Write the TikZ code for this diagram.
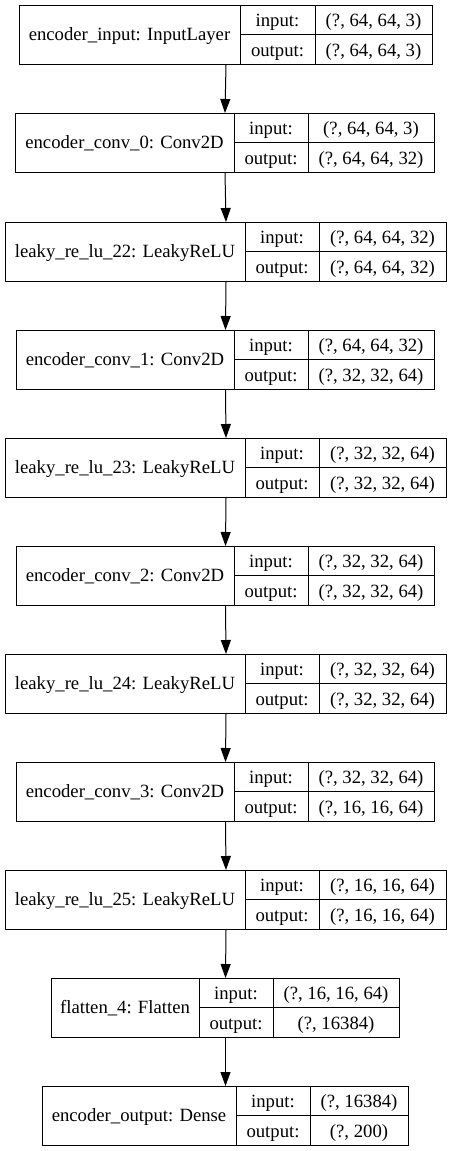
\documentclass[tikz,border=0pt]{standalone}
\usepackage{fontspec}
\setmainfont{Liberation Serif}
\usetikzlibrary{arrows.meta}
\tikzset{
  boxframe/.style={draw=black, line width=1pt, inner sep=0pt, anchor=north west},
  celltext/.style={inner sep=0pt, anchor=base, font=\fontsize{18.7}{20}\selectfont},
  flow/.style={draw=black, line width=1pt, -{Triangle[length=14pt,width=10pt]}}
}
\newcommand\layerbox[9]{%
  \node[boxframe, minimum width={(#6-#3)*1pt}, minimum height=59pt] (#1) at (#3,#2) {};
  \draw[line width=1pt] (#4,#2) -- (#4,#2+59);
  \draw[line width=1pt] (#5,#2) -- (#5,#2+59);
  \draw[line width=1pt] (#4,#2+29.5) -- (#6,#2+29.5);
  \node[celltext] (#1-l) at ({(#3+#4)/2},#2+35.5) {#7};
  \node[celltext] (#1-i) at ({(#4+#5)/2},#2+21.7) {input:};
  \node[celltext] (#1-o) at ({(#4+#5)/2},#2+51.2) {output:};
  \node[celltext] (#1-iv) at ({(#5+#6)/2},#2+21.7) {#8};
  \node[celltext] (#1-ov) at ({(#5+#6)/2},#2+51.2) {#9};
}
\begin{document}
\begin{tikzpicture}[x=1pt,y=-1pt]
\useasboundingbox[fill=white] (0,0) rectangle (450,1151);
\layerbox{b1}{5}{19}{240}{315}{432}{encoder\_input: InputLayer}{(?, 64, 64, 3)}{(?, 64, 64, 3)}
\layerbox{b2}{113}{15}{234}{308}{434}{encoder\_conv\_0: Conv2D}{(?, 64, 64, 3)}{(?, 64, 64, 32)}
\layerbox{b3}{222}{5}{245}{319}{446}{leaky\_re\_lu\_22: LeakyReLU}{(?, 64, 64, 32)}{(?, 64, 64, 32)}
\layerbox{b4}{330}{16}{234}{308}{434}{encoder\_conv\_1: Conv2D}{(?, 64, 64, 32)}{(?, 32, 32, 64)}
\layerbox{b5}{438}{5}{245}{319}{446}{leaky\_re\_lu\_23: LeakyReLU}{(?, 32, 32, 64)}{(?, 32, 32, 64)}
\layerbox{b6}{546}{16}{234}{308}{434}{encoder\_conv\_2: Conv2D}{(?, 32, 32, 64)}{(?, 32, 32, 64)}
\layerbox{b7}{654}{5}{245}{319}{446}{leaky\_re\_lu\_24: LeakyReLU}{(?, 32, 32, 64)}{(?, 32, 32, 64)}
\layerbox{b8}{762}{16}{234}{308}{434}{encoder\_conv\_3: Conv2D}{(?, 32, 32, 64)}{(?, 16, 16, 64)}
\layerbox{b9}{870}{5}{245}{319}{446}{leaky\_re\_lu\_25: LeakyReLU}{(?, 16, 16, 64)}{(?, 16, 16, 64)}
\layerbox{b10}{978}{51}{199}{273}{399}{flatten\_4: Flatten}{(?, 16, 16, 64)}{(?, 16384)}
\layerbox{b11}{1086}{42}{236}{310}{408}{encoder\_output: Dense}{(?, 16384)}{(?, 200)}
\foreach \a/\b in {b1/b2,b2/b3,b3/b4,b4/b5,b5/b6,b6/b7,b7/b8,b8/b9,b9/b10,b10/b11}
  \draw[flow] (\a.south) -- (\b.north);
\end{tikzpicture}
\end{document}
